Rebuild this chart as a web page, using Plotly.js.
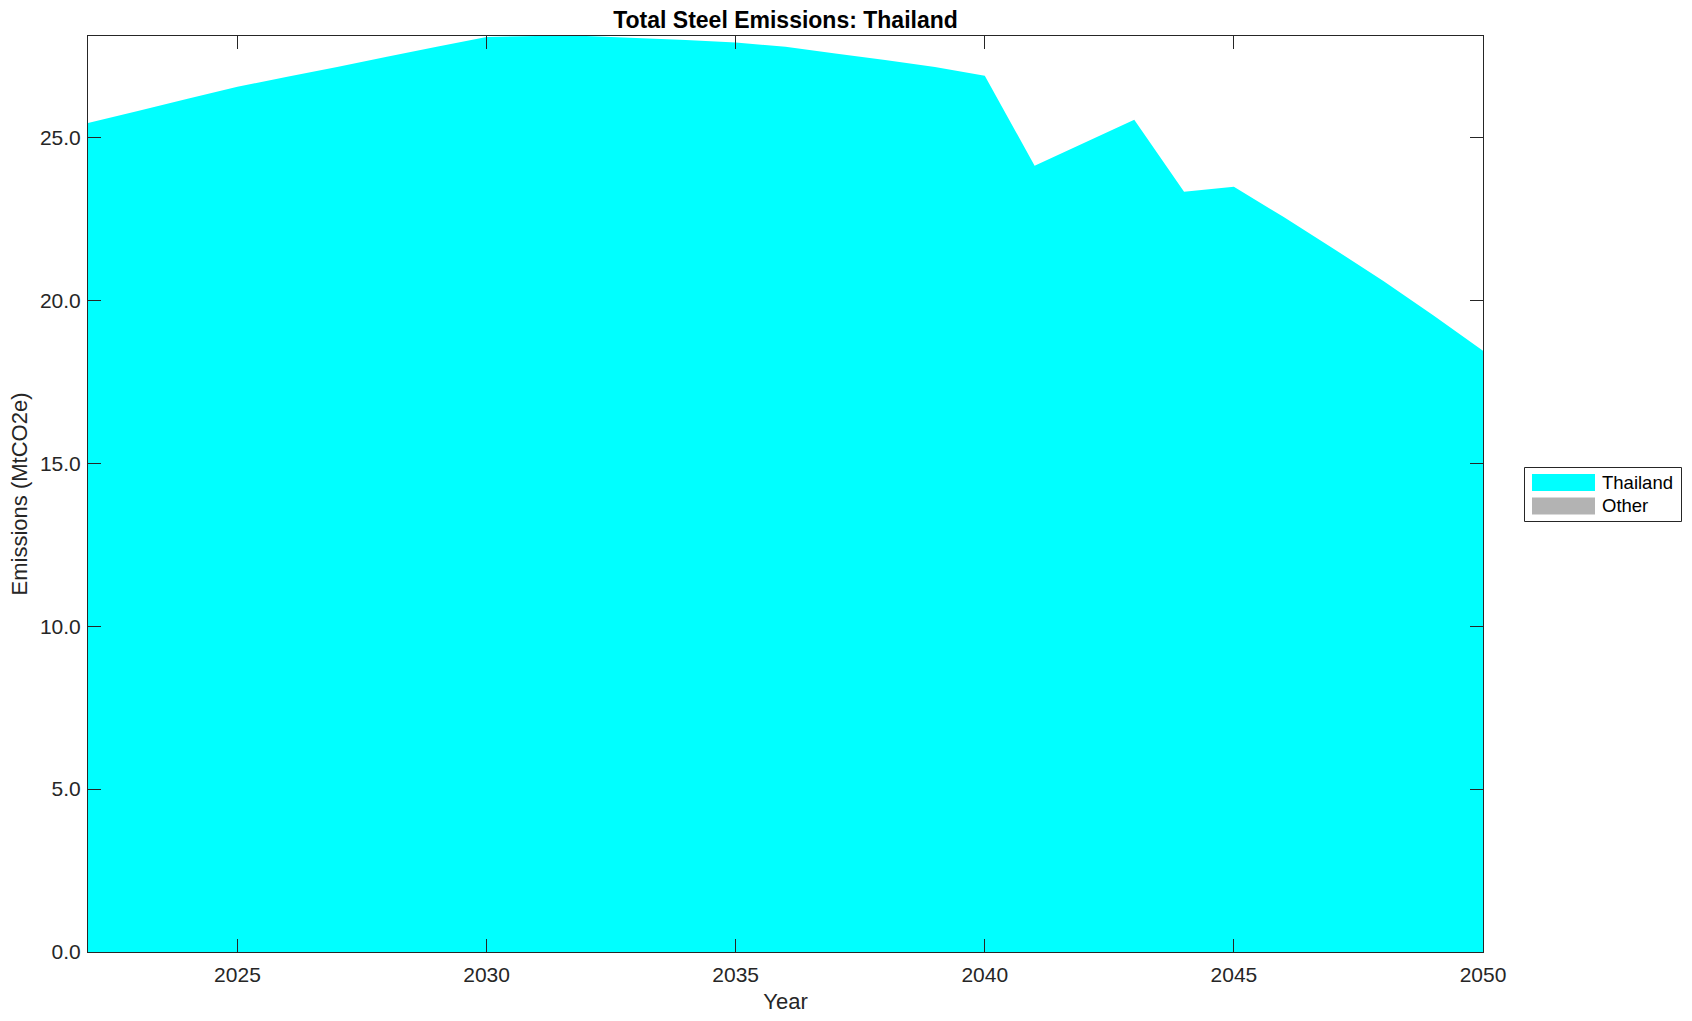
<!DOCTYPE html>
<html>
<head>
<meta charset="utf-8">
<script src="https://cdn.plot.ly/plotly-3.0.1.min.js"></script>
<style>html,body{margin:0;padding:0;background:#fff;}#chart{width:1692px;height:1021px;}</style>
</head>
<body>
<div id="chart"></div>
<script>
const years = [2022,2023,2024,2025,2026,2027,2028,2029,2030,2031,2032,2033,2034,2035,2036,2037,2038,2039,2040,2041,2042,2043,2044,2045,2046,2047,2048,2049,2050];
const thailand = [25.45,25.82,26.19,26.56,26.87,27.17,27.48,27.79,28.09,28.12,28.12,28.06,28.00,27.92,27.79,27.58,27.38,27.17,26.90,24.14,24.84,25.55,23.34,23.49,22.56,21.59,20.60,19.55,18.46];
const other = [0,0,0,0,0,0,0,0,0,0,0,0,0,0,0,0,0,0,0,0,0,0,0,0,0,0,0,0,0];
const seriesNames = ["Thailand","Other"];
const seriesColors = ["#00FFFF","#B3B3B3"];
const chartTitle = "Total Steel Emissions: Thailand";
const xTitle = "Year";
const yTitle = "Emissions (MtCO2e)";

const W = 1692, H = 1021;
const L = 88, R = 1483, T = 36, B = 952;
const px = x => (x - L) / (R - L);
const py = y => (B - y) / (B - T);
const FONT = '"Liberation Sans", Arial, Helvetica, sans-serif';

const traces = [thailand, other].map((vals, i) => ({
  type: 'scatter', mode: 'none', x: years, y: vals,
  stackgroup: 'one', name: seriesNames[i],
  fillcolor: seriesColors[i], line: {width: 0},
  showlegend: false, hoverinfo: 'x+y+name'
}));

const ymax = Math.max(...thailand.map((v, i) => v + other[i]));

const axisCommon = {
  showline: true, linecolor: '#262626', linewidth: 1, mirror: 'allticks',
  ticks: 'inside', ticklen: 13, tickwidth: 1, tickcolor: '#262626',
  showgrid: false, zeroline: false,
  tickfont: {family: FONT, size: 21, color: '#262626'}
};

// legend drawn in pixel-space boxes
const shapes = [
  {type: 'rect', xref: 'paper', yref: 'paper', x0: px(1524.5), x1: px(1681.5), y0: py(467.5), y1: py(521.5),
   line: {color: '#262626', width: 1}, fillcolor: '#FFFFFF'}
];
const annotations = [];
seriesNames.forEach((n, i) => {
  const yc = 482.5 + i * 23.5;
  shapes.push({type: 'rect', xref: 'paper', yref: 'paper', x0: px(1532), x1: px(1595), y0: py(yc + 8.5), y1: py(yc - 8.5),
    line: {width: 0}, fillcolor: seriesColors[i]});
  annotations.push({xref: 'paper', yref: 'paper', x: px(1600), y: py(yc), xanchor: 'left', yanchor: 'middle',
    text: n, showarrow: false, font: {family: FONT, size: 18.5, color: '#000'}});
});

const layout = {
  width: W, height: H,
  margin: {l: L, r: W - R, t: T, b: H - B, pad: 0},
  paper_bgcolor: '#FFFFFF', plot_bgcolor: '#FFFFFF',
  font: {family: FONT, color: '#262626'},
  showlegend: false,
  title: {text: '<b>' + chartTitle + '</b>', x: 0.5 * (px(L) + px(R)), xref: 'paper', xanchor: 'center',
    y: 1 - 19.5 / H, yanchor: 'middle', font: {family: FONT, size: 23, color: '#000'}},
  xaxis: Object.assign({}, axisCommon, {
    range: [2022, 2050], tick0: 2025, dtick: 5, ticklabelstandoff: 4,
    title: {text: xTitle, font: {family: FONT, size: 22, color: '#262626'}, standoff: 8}
  }),
  yaxis: Object.assign({}, axisCommon, {
    range: [0, ymax], tick0: 0, dtick: 5, tickformat: '.1f', ticklabelstandoff: 2,
    title: {text: yTitle, font: {family: FONT, size: 22, color: '#262626'}, standoff: 6}
  }),
  shapes: shapes,
  annotations: annotations
};

Plotly.newPlot('chart', traces, layout, {displayModeBar: false, staticPlot: true});
</script>
</body>
</html>
